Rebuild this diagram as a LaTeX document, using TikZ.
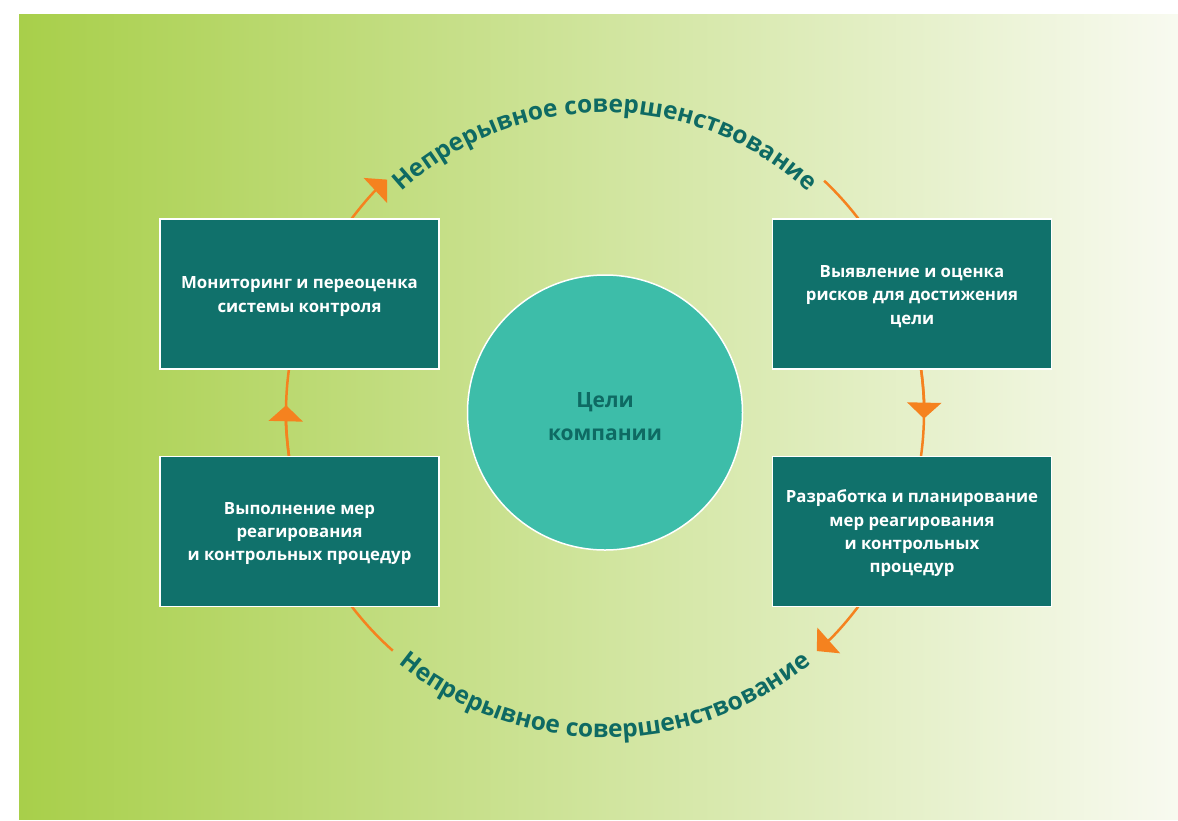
\documentclass[tikz,border=0pt]{standalone}
\usepackage{fontspec}
\setmainfont{Open Sans}
\usetikzlibrary{arrows.meta,decorations.text}
\definecolor{boxteal}{HTML}{10716B}
\definecolor{circteal}{HTML}{3DBDA9}
\definecolor{darkteal}{HTML}{0E6A63}
\definecolor{arcorange}{HTML}{F5821F}
\definecolor{bgleft}{HTML}{A8CF4A}
\definecolor{bgright}{HTML}{F8FAF0}
\newcommand{\arcfont}{\bfseries\fontsize{24.5}{24.5}\selectfont}
\begin{document}
\begin{tikzpicture}[x=1pt,y=1pt,
  stepbox/.style={draw=white, line width=1.5pt, fill=boxteal, minimum width=279pt,
    minimum height=150pt},
  steptext/.style={text=white, font=\bfseries\fontsize{16.8}{23.3}\selectfont,
    align=center, inner sep=0pt},
  goalcircle/.style={circle, draw=white, line width=1.5pt, fill=circteal, minimum size=275pt,
    inner sep=0pt},
  goaltext/.style={text=darkteal, font=\bfseries\fontsize{21}{33}\selectfont, align=center, inner sep=0pt},
  cyc/.style={draw=arcorange, line width=2.5pt},
  tiparrow/.style={-{Triangle[width=34pt,length=16pt]}},
  arctext/.style={decorate, decoration={text along path, text align=center,
    text color=darkteal, text={|\arcfont|#1}}}]
\useasboundingbox (0,0) rectangle (1178,-820);
\fill[left color=bgleft, right color=bgright] (19,-14) rectangle (1178,-819);
\coordinate (O) at (605,-412.5);
% cycle arcs
\draw[cyc,tiparrow] ([shift={(145:319)}]O) arc[start angle=145, end angle=133.1, radius=319];
\draw[cyc] ([shift={(46.6:319)}]O) arc[start angle=46.6, end angle=33, radius=319];
\draw[cyc] ([shift={(12:319)}]O) arc[start angle=12, end angle=-12, radius=319];
\draw[cyc,tiparrow] ([shift={(8:319)}]O) arc[start angle=8, end angle=-1.1, radius=319];
\draw[cyc,tiparrow] ([shift={(-34:319)}]O) arc[start angle=-34, end angle=-48.4, radius=319];
\draw[cyc] ([shift={(-131.7:319)}]O) arc[start angle=-131.7, end angle=-146, radius=319];
\draw[cyc] ([shift={(192:319)}]O) arc[start angle=192, end angle=168, radius=319];
\draw[cyc,tiparrow] ([shift={(188:319)}]O) arc[start angle=188, end angle=178.7, radius=319];
% boxes
\node[stepbox] (mon) at (299.5,-294) {};
\node[stepbox] (risk) at (912,-294) {};
\node[stepbox] (exec) at (299.5,-531.5) {};
\node[stepbox] (plan) at (912,-531.5) {};
\node[steptext] (monT) at ([yshift=-2.5]mon.center) {Мониторинг и переоценка\\системы контроля};
\node[steptext] (riskT) at ([yshift=-2.5]risk.center) {Выявление и оценка\\рисков для достижения\\цели};
\node[steptext] (execT) at ([yshift=-2]exec.center) {Выполнение мер\\реагирования\\и контрольных процедур};
\node[steptext] (planT) at ([yshift=-2]plan.center) {Разработка и планирование\\мер реагирования\\и контрольных\\процедур};
\node[goalcircle] (goal) at (O) {};
\node[goaltext] (goalT) at ([yshift=-4.5]goal.center) {Цели\\компании};
% arc texts
\path[arctext={Непрерывное совершенствование}] ([shift={(180:300)}]O) arc[start angle=180, end angle=0, radius=300];
\path[arctext={Непрерывное совершенствование}] ([shift={(180:325)}]O) arc[start angle=180, end angle=360, radius=325];
\end{tikzpicture}
\end{document}
